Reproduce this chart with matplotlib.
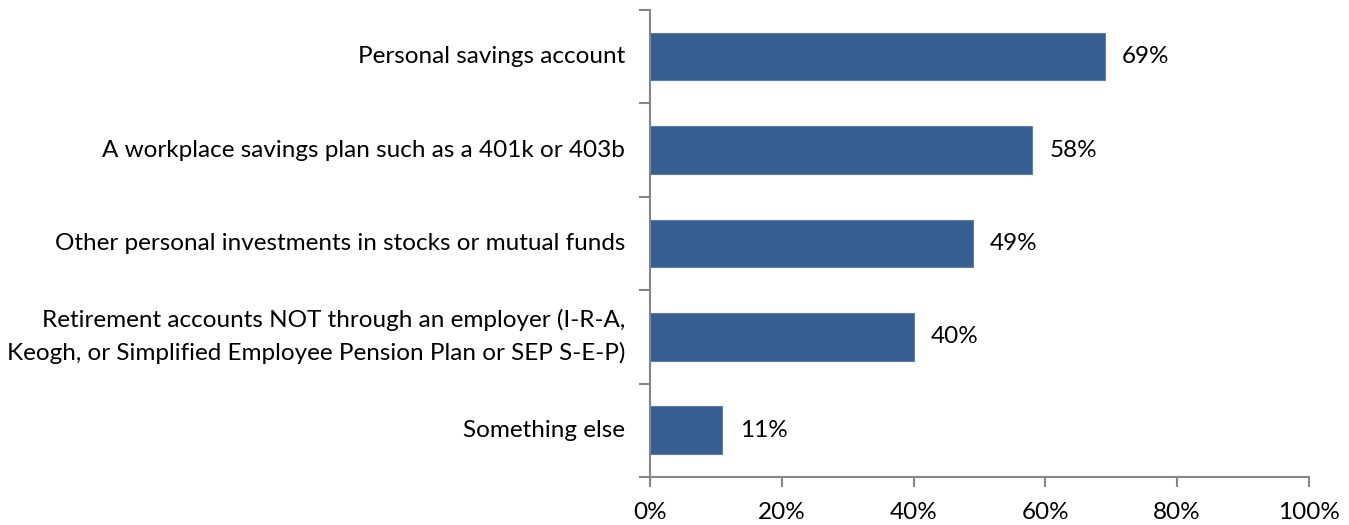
import matplotlib.pyplot as plt
import numpy as np
from matplotlib.ticker import FixedLocator

categories = ['Personal savings account',
              'A workplace savings plan such as a 401k or 403b',
              'Other personal investments in stocks or mutual funds',
              'Retirement accounts NOT through an employer (I-R-A,\nKeogh, or Simplified Employee Pension Plan or SEP S-E-P)',
              'Something else']
values = [69, 58, 49, 40, 11]
xticks = [0, 20, 40, 60, 80, 100]

plt.rcParams['font.family'] = ['Lato', 'DejaVu Sans']

fig = plt.figure(figsize=(13.49, 5.25), dpi=100)
ax1 = fig.add_axes([0.4818, 0.0914, 0.4885, 0.8896])

y = np.arange(len(categories))
ax1.barh(y, values, height=0.51, color='#375E91', edgecolor='#5B7FAE', linewidth=0.8)
ax1.set_ylim(len(categories) - 0.5, -0.5)
ax1.set_xlim(0, 100)

for yi, v in zip(y, values):
    ax1.text(v + 2.6, yi, f'{v}%', va='center', ha='left', fontsize=17.5, color='black')

ax1.set_yticks(y)
ax1.set_yticklabels(categories, fontsize=17.5, ha='right', va='center',
                    multialignment='right', linespacing=1.6)
ax1.yaxis.set_minor_locator(FixedLocator(np.arange(-0.5, len(categories), 1.0)))
ax1.tick_params(axis='y', which='major', length=0, pad=18)
ax1.tick_params(axis='y', which='minor', length=8, width=1.5, color='#868686', direction='out')

ax1.set_xticks(xticks)
ax1.set_xticklabels([f'{t}%' for t in xticks], fontsize=17.5)
ax1.tick_params(axis='x', length=7, width=1.5, color='#868686', direction='out', pad=11)

for side in ['top', 'right']:
    ax1.spines[side].set_visible(False)
for side in ['left', 'bottom']:
    ax1.spines[side].set_color('#868686')
    ax1.spines[side].set_linewidth(1.5)

plt.savefig('out.png', dpi=100)
